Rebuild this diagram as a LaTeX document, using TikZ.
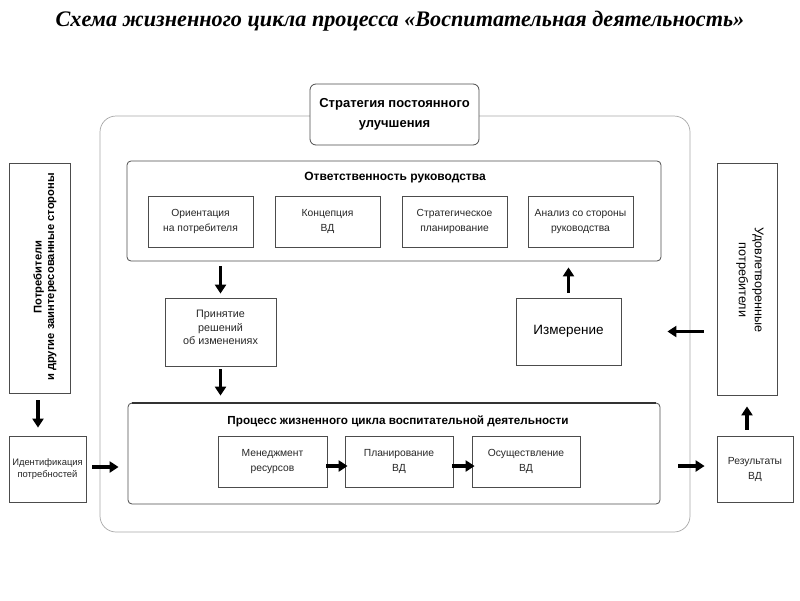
\documentclass[tikz,border=0pt]{standalone}
\usepackage{fontspec}
\setmainfont{Liberation Serif}
\setsansfont{Liberation Sans}
\usetikzlibrary{arrows.meta,calc}
\begin{document}
\begin{tikzpicture}[x=1pt,y=-1pt,
  every node/.style={font=\sffamily},
  bx/.style={draw=black!70, line width=0.8pt, align=center, inner sep=0pt},
  small/.style={font=\sffamily\fontsize{10.3}{15}\selectfont, text=black!85},
  arr/.style={line width=3.6pt, -{Triangle[length=9pt,width=11pt]}},
]
\useasboundingbox (0,0) rectangle (800,600);
\node (title) at (400,21) {\rmfamily\bfseries\itshape\fontsize{22.2}{24}\selectfont Схема жизненного цикла процесса «Воспитательная деятельность»};
% outer frame
\node[draw=black!35, line width=0.7pt, rounded corners=16pt, minimum width=590pt, minimum height=416pt] (outer) at (395,324) {};
\node[bx, fill=white, rounded corners=6pt, minimum width=169pt, minimum height=61pt,
  font=\sffamily\bfseries\fontsize{13}{20}\selectfont] (strat) at (394.5,114.5) {Стратегия постоянного\\улучшения};
% management block
\node[bx, rounded corners=4pt, minimum width=534pt, minimum height=100pt] (mgmt) at (394,211) {};
\node[font=\sffamily\bfseries\fontsize{12}{14}\selectfont] (mgmtt) at (395,178) {Ответственность руководства};
\node[bx, small, minimum width=105pt, minimum height=51pt] (b1) at (200.5,221.5) {Ориентация\\на потребителя};
\node[bx, small, minimum width=105pt, minimum height=51pt] (b2) at (327.5,221.5) {Концепция\\ВД};
\node[bx, small, minimum width=105pt, minimum height=51pt] (b3) at (454.5,221.5) {Стратегическое\\планирование};
\node[bx, small, minimum width=105pt, minimum height=51pt] (b4) at (580.5,221.5) {Анализ со стороны\\руководства};
% middle
\node[bx, minimum width=111pt, minimum height=68pt] (prin) at (220.5,332) {};
\node[align=center, font=\sffamily\fontsize{10.8}{13.5}\selectfont, text=black!85] (print) at (220.5,327.5) {Принятие\\решений\\об изменениях};
\node[bx, font=\sffamily\fontsize{13.5}{16}\selectfont, minimum width=105pt, minimum height=67pt] (izm) at (568.5,331.5) {Измерение};
% process block
\node[bx, rounded corners=4pt, minimum width=532pt, minimum height=101pt] (proc) at (394,453.5) {};
\draw[black!80, line width=1.8pt] ([xshift=4pt]proc.north west) -- ([xshift=-4pt]proc.north east);
\node[font=\sffamily\bfseries\fontsize{11.7}{14}\selectfont] (proct) at (398,421) {Процесс жизненного цикла воспитательной деятельности};
\node[bx, small, minimum width=109pt, minimum height=51pt] (pA) at (272.5,461.5) {Менеджмент\\ресурсов};
\node[bx, small, minimum width=108pt, minimum height=51pt] (pB) at (399,461.5) {Планирование\\ВД};
\node[bx, small, minimum width=108pt, minimum height=51pt] (pC) at (526,461.5) {Осуществление\\ВД};
% side boxes
\node[bx, minimum width=61pt, minimum height=230pt] (ltall) at (39.5,278) {};
\node[rotate=90, align=center, font=\sffamily\bfseries\fontsize{11.2}{12.5}\selectfont] (ltallt) at (45,277) {Потребители\\и другие заинтересованные стороны};
\node[bx, small, font=\sffamily\fontsize{9.4}{12.5}\selectfont, minimum width=77pt, minimum height=66pt] (ident) at (47.5,469) {Идентификация\\потребностей};
\node[bx, minimum width=60pt, minimum height=232pt] (rtall) at (747,279) {};
\node[rotate=-90, align=center, font=\sffamily\fontsize{12.6}{16}\selectfont] (rtallt) at (750,280) {Удовлетворенные\\потребители};
\node[bx, small, font=\sffamily\fontsize{10.3}{15}\selectfont, minimum width=76pt, minimum height=66pt] (res) at (755,469) {Результаты\\ВД};
% arrows
\draw[arr, shorten <=5pt, shorten >=4pt] (mgmt.south -| prin.north) -- (prin.north);
\draw[arr, shorten <=3pt, shorten >=7pt] (prin.south) -- (proc.north -| prin.south);
\draw[arr, shorten <=5pt, shorten >=6pt] (izm.north) -- (mgmt.south -| izm.north);
\draw[arr, shorten <=6pt, shorten >=9pt] ([yshift=2pt]ident.east) -- ([yshift=2pt]proc.west |- ident.east);
\draw[arr, shorten <=18pt, shorten >=12pt] ([yshift=3pt]proc.east |- res.west) -- ([yshift=3pt]res.west);
\draw[arr, shorten <=13pt, shorten >=46pt] (rtall.west |- izm.east) -- (izm.east);
\draw[arr, shorten <=7pt, shorten >=8pt] (ltall.south -| 38,0) -- (ident.north -| 38,0);
\draw[arr, shorten <=6pt, shorten >=11pt] (res.north -| rtall.south) -- (rtall.south);
\draw[arr, shorten <=-1pt, shorten >=-3pt] ([yshift=-4.5pt]pA.east) -- ([yshift=-4.5pt]pB.west);
\draw[arr, shorten <=-1pt, shorten >=-3pt] ([yshift=-4.5pt]pB.east) -- ([yshift=-4.5pt]pC.west);
\end{tikzpicture}
\end{document}
